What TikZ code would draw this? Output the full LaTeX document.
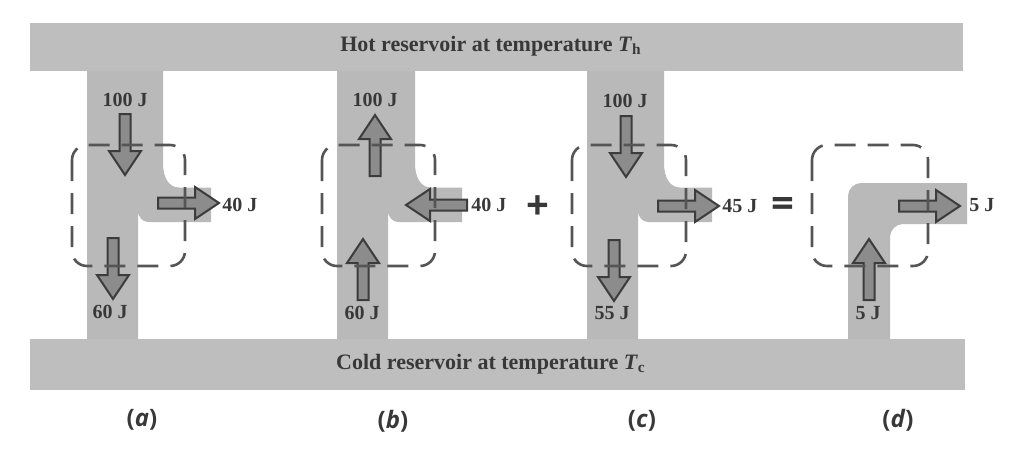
\documentclass[tikz,border=0pt]{standalone}
\usepackage{fontspec}
\setmainfont{Liberation Serif}
\setsansfont{Open Sans}
\usetikzlibrary{positioning}

\definecolor{reservoir}{HTML}{BEBEBE}
\definecolor{stream}{HTML}{B9B9B9}
\definecolor{flowfill}{HTML}{8C8C8C}
\definecolor{flowline}{HTML}{3C3C3C}
\definecolor{boxline}{HTML}{555555}
\definecolor{inktext}{HTML}{383838}

% column with side branch: left edge, lower right edge, upper right edge, branch end
\newcommand{\engine}[4]{%
  \fill[stream] (#1,71) -- (#1,339) -- (#2,339) -- (#2,211)
    .. controls (#2,216.5) and ({#2+4.5},222) .. ({#2+10},222)
    -- (#4,222) -- (#4,187.5) -- ({#3+16},187.5)
    .. controls ({#3+6},187.5) and (#3,178) .. (#3,163) -- (#3,71) -- cycle;}

% block arrow: tail x, tail y, direction
\newcommand{\flowarrow}[3]{%
  \draw[flow, shift={(#1,#2)}, rotate=#3] (0,-5.5) -- (37,-5.5) -- (37,-16)
    -- (61,0) -- (37,16) -- (37,5.5) -- (0,5.5) -- cycle;}

\begin{document}
\begin{tikzpicture}[x=0.5pt, y=-0.5pt,
    flow/.style={fill=flowfill, draw=flowline, line width=1pt, line join=miter},
    boundary/.style={draw=boxline, line width=1.3pt, dash pattern=on 10.5pt off 6pt, rounded corners=7.5pt},
    energy/.style={inner sep=0pt, text=inktext, font=\fontsize{10}{12}\selectfont\bfseries},
    reslabel/.style={inner sep=0pt, text=inktext, font=\fontsize{11}{13}\selectfont\bfseries},
    part/.style={inner sep=0pt, text=inktext, font=\fontsize{12}{14}\selectfont\sffamily\bfseries},
    sign/.style={inner sep=0pt, text=inktext, font=\fontsize{20}{22}\selectfont\sffamily\bfseries}
  ]
  \useasboundingbox (0,0) rectangle (1015,449);

  % reservoirs
  \fill[reservoir] (30,23) rectangle (963,71);
  \fill[reservoir] (30,339) rectangle (965,390);
  \node[reslabel] (hot) at (491,46) {Hot reservoir at temperature \textit{T}\textsubscript{h}};
  \node[reslabel] (cold) at (491,364) {Cold reservoir at temperature \textit{T}\textsubscript{c}};

  % streams
  \engine{87}{138}{163}{211}
  \engine{337}{388}{415}{462}
  \engine{587}{638}{664}{712}
  \fill[stream] (848,339) -- (848,196) .. controls (848,189) and (854,183) .. (861,183)
    -- (967,183) -- (967,224) -- (903,224) .. controls (896,224) and (890,230) .. (890,237)
    -- (890,339) -- cycle;

  % energy flows
  \flowarrow{125}{114}{-90}
  \flowarrow{113}{238}{-90}
  \flowarrow{158}{203}{0}
  \flowarrow{375}{176}{90}
  \flowarrow{363}{300}{90}
  \flowarrow{467}{205}{180}
  \flowarrow{626}{116}{-90}
  \flowarrow{614}{240}{-90}
  \flowarrow{658}{206}{0}
  \flowarrow{869}{300}{90}
  \flowarrow{899}{206}{0}

  % system boundaries
  \draw[boundary] (72,145) rectangle (185,266);
  \draw[boundary] (322,145) rectangle (435,266);
  \draw[boundary] (572,145) rectangle (686,266);
  \draw[boundary] (812,145) rectangle (928,266);

  % labels
  \node[energy] (ain) at (125,100) {100 J};
  \node[energy] (aout) at (110,312) {60 J};
  \node[energy, anchor=west] (awork) at (222,205) {40 J};
  \node[energy] (bout) at (375,100) {100 J};
  \node[energy] (bin) at (362,313) {60 J};
  \node[energy, anchor=west] (bwork) at (471,205) {40 J};
  \node[energy] (cin) at (625,101) {100 J};
  \node[energy] (cout) at (612,313) {55 J};
  \node[energy, anchor=west] (cwork) at (722,206) {45 J};
  \node[energy] (din) at (868,313) {5 J};
  \node[energy, anchor=west] (dwork) at (969,205) {5 J};

  \node[sign] (plus) at (538,208) {+};
  \node[sign] (equals) at (783,207) {=};

  \node[part] (capa) at (142,420) {(\textit{a})};
  \node[part] (capb) at (393,421) {(\textit{b})};
  \node[part] (capc) at (642,421) {(\textit{c})};
  \node[part] (capd) at (898,420) {(\textit{d})};
\end{tikzpicture}
\end{document}
